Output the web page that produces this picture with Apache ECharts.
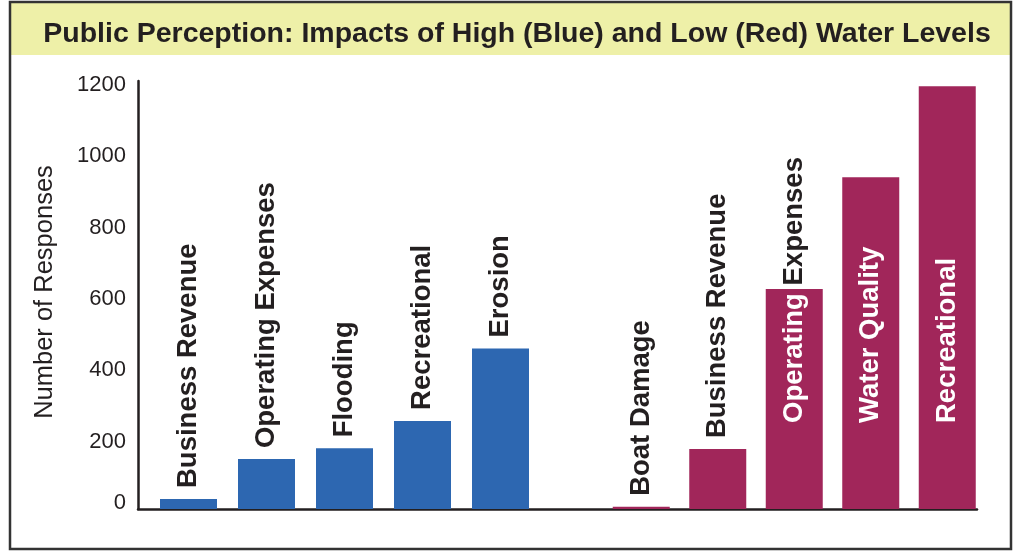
<!DOCTYPE html>
<html>
<head>
<meta charset="utf-8">
<script src="https://cdn.jsdelivr.net/npm/echarts@6/dist/echarts.min.js"></script>
<style>
  html, body { margin: 0; padding: 0; background: #fff; }
  #chart { width: 1018px; height: 552px; }
</style>
</head>
<body>
<div id="chart"></div>
<script>
// ---- data ----
const titleText = 'Public Perception: Impacts of High (Blue) and Low (Red) Water Levels';
const yAxisName = 'Number of Responses';
const highCategories = ['Business Revenue', 'Operating Expenses', 'Flooding', 'Recreational', 'Erosion'];
const highValues = [28, 140, 170, 247, 450];
const lowCategories = ['Boat Damage', 'Business Revenue', 'Operating Expenses', 'Water Quality', 'Recreational'];
const lowValues = [6, 168, 617, 930, 1185];
const yMin = 0;
const yMax = 1200;
const yStep = 200;

// ---- styling ----
const INK = '#231f20';
const BLUE = '#2d67b1';
const MAROON = '#a1265a';
const BAND = '#eef0a8';
const FONT = '"Liberation Sans", Arial, Helvetica, sans-serif';
const LABEL_SIZE = 27.5;
const PLOT_TOP = 81;
const PLOT_BOTTOM = 43;
const PLOT_HEIGHT = 552 - PLOT_TOP - PLOT_BOTTOM;
const TOP_DIST = 11;      // gap between a short bar and its label
const INSIDE_DIST = 86;   // where labels start inside tall bars
const INSIDE_MIN = 500;   // bars at least this tall carry their label inside

const measureCtx = document.createElement('canvas').getContext('2d');
measureCtx.font = 'bold ' + LABEL_SIZE + 'px ' + FONT;

const labelFont = { fontSize: LABEL_SIZE, fontWeight: 'bold', fontFamily: FONT };

// Rotated category label for one bar; words that fit inside a tall bar are white,
// the rest continue above it in dark ink.
function barLabel(name, value) {
  const base = Object.assign({
    show: true, rotate: 90, align: 'left', verticalAlign: 'middle', color: INK,
    rich: {
      in: Object.assign({ color: '#ffffff' }, labelFont),
      out: Object.assign({ color: INK }, labelFont)
    }
  }, labelFont);
  if (value < INSIDE_MIN) {
    return Object.assign(base, { position: 'top', distance: TOP_DIST, formatter: name });
  }
  const room = value / (yMax - yMin) * PLOT_HEIGHT - INSIDE_DIST;
  let used = 0;
  const parts = name.split(' ').map((w, i) => {
    used += measureCtx.measureText((i ? ' ' : '') + w).width;
    return '{' + (used <= room ? 'in' : 'out') + '|' + w + '}';
  });
  return Object.assign(base, { position: 'insideBottom', distance: INSIDE_DIST, formatter: parts.join(' ') });
}

const hiddenY = idx => ({ gridIndex: idx, type: 'value', min: yMin, max: yMax, interval: yStep, show: false });
const tickText = { fontSize: 22, color: INK, fontFamily: FONT };

const chart = echarts.init(document.getElementById('chart'), null, { renderer: 'canvas' });
chart.setOption({
  animation: false,
  backgroundColor: '#ffffff',
  title: {
    text: titleText,
    left: 512,
    top: 13,
    textAlign: 'center',
    textStyle: { fontSize: 28.5, fontWeight: 'bold', color: INK, fontFamily: FONT, lineHeight: 32 }
  },
  graphic: [
    { type: 'rect', silent: true, z: -10, shape: { x: 10, y: 2, width: 1001, height: 53 }, style: { fill: BAND } },
    { type: 'rect', silent: true, z: 100, shape: { x: 10, y: 2, width: 1001, height: 547 },
      style: { fill: 'none', stroke: '#333333', lineWidth: 2.5 } }
  ],
  grid: [
    { left: 138, right: 41, top: PLOT_TOP, bottom: PLOT_BOTTOM, outerBoundsMode: 'none' },
    { left: 149.5, width: 390, top: PLOT_TOP, bottom: PLOT_BOTTOM, outerBoundsMode: 'none' },
    { left: 603, width: 382.5, top: PLOT_TOP, bottom: PLOT_BOTTOM, outerBoundsMode: 'none' }
  ],
  xAxis: [
    { gridIndex: 0, type: 'value', min: 0, max: 1,
      axisLine: { show: true, onZero: false, lineStyle: { color: INK, width: 2.5 } },
      axisTick: { show: false }, axisLabel: { show: false }, splitLine: { show: false } },
    { gridIndex: 1, type: 'category', data: highCategories, show: false },
    { gridIndex: 2, type: 'category', data: lowCategories, show: false }
  ],
  yAxis: [
    { gridIndex: 0, type: 'value', min: yMin, max: yMax, interval: yStep,
      name: yAxisName, nameLocation: 'middle', nameGap: 80,
      nameTextStyle: { fontSize: 25.5, color: INK, fontFamily: FONT, padding: [0, 0, 0, 6] },
      axisLine: { show: true, lineStyle: { color: INK, width: 2.5 } },
      axisTick: { show: false }, splitLine: { show: false },
      axisLabel: {
        margin: 12, color: INK, fontSize: 22, fontFamily: FONT,
        formatter: v => (v === yMin ? '{base|' + v + '}' : '{tick|' + v + '}'),
        rich: {
          tick: Object.assign({ padding: [8, 0, 0, 0] }, tickText),
          base: Object.assign({ padding: [0, 0, 12, 0] }, tickText)
        }
      } },
    hiddenY(1),
    hiddenY(2)
  ],
  series: [
    { name: 'High water levels', type: 'bar', xAxisIndex: 1, yAxisIndex: 1, barWidth: 57,
      itemStyle: { color: BLUE },
      data: highValues.map((v, i) => ({ value: v, label: barLabel(highCategories[i], v) })) },
    { name: 'Low water levels', type: 'bar', xAxisIndex: 2, yAxisIndex: 2, barWidth: 57,
      itemStyle: { color: MAROON },
      data: lowValues.map((v, i) => ({ value: v, label: barLabel(lowCategories[i], v) })) }
  ]
});
</script>
</body>
</html>
